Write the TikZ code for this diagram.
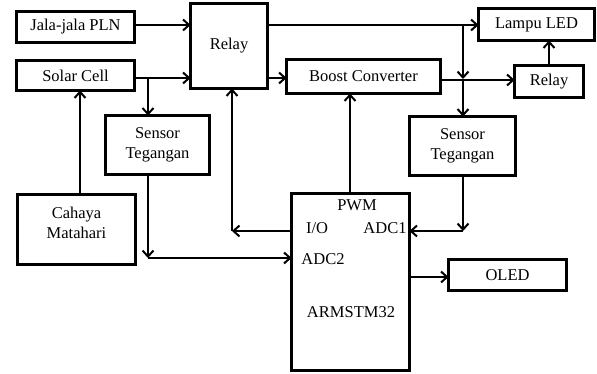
\documentclass[tikz,border=0pt]{standalone}
\usepackage{fontspec}
\setmainfont{Liberation Serif}
\usetikzlibrary{arrows.meta,calc}
\begin{document}
\begin{tikzpicture}[x=1pt,y=-1pt,
  box/.style={draw,line width=3pt,inner sep=0pt,outer sep=0pt,align=center,font=\fontsize{16.5}{20}\selectfont},
  lbl/.style={inner sep=0pt,font=\fontsize{16.5}{20}\selectfont},
  arr/.style={line width=2pt,-{Straight Barb[length=6pt,width=11pt,line width=2pt]}}]
\useasboundingbox (0,0) rectangle (597,374);
\node[box,minimum width=118pt,minimum height=31pt] (jala) at (75.5,27) {Jala-jala PLN};
\node[box,minimum width=118pt,minimum height=30pt] (solar) at (75.5,75.5) {Solar Cell};
\node[box,minimum width=77pt,minimum height=85pt] (relay) at (229,46) {Relay};
\node[box,minimum width=104pt,minimum height=59pt] (sensL) at (157.5,145) {Sensor\\Tegangan};
\node[box,minimum width=118pt,minimum height=70pt,text depth=14pt] (cahaya) at (76.5,229.5) {Cahaya\\Matahari};
\node[box,minimum width=154pt,minimum height=34pt] (boost) at (363.5,76.5) {Boost Converter};
\node[box,minimum width=116pt,minimum height=32pt] (lampu) at (536.5,24.5) {Lampu LED};
\node[box,minimum width=69pt,minimum height=32pt] (relay2) at (549,81.5) {Relay};
\node[box,minimum width=106pt,minimum height=59pt] (sensR) at (462.5,146) {Sensor\\Tegangan};
\node[box,minimum width=118pt,minimum height=177pt] (arm) at (350.5,282) {};
\node[box,minimum width=118pt,minimum height=31pt] (oled) at (507.5,275) {OLED};
\node[lbl] (pwm) at (357,205) {PWM};
\node[lbl] (io) at (317,228) {I/O};
\node[lbl] (adc1) at (385,228) {ADC1};
\node[lbl] (adc2) at (323,259) {ADC2};
\node[lbl] (armt) at (351,312) {ARMSTM32};
% coordinates
\coordinate (bsL) at (148,78);
\coordinate (cL) at (148,258);
\coordinate (cIO) at (232,231);
\coordinate (tR) at (463,25);
\coordinate (bR) at (463,80);
\coordinate (cR) at (463,231);
% connectors
\draw[arr] (jala.east |- 0,25) -- (relay.west |- 0,25);
\draw[arr] (solar.east |- bsL) -- (relay.west |- bsL);
\draw[arr] (bsL) -- (sensL.north -| bsL);
\draw[arr] (cahaya.north -| 80,0) -- (solar.south -| 80,0);
\draw[arr] (relay.east |- tR) -- (lampu.west |- tR);
\draw[arr] (tR) -- ($(bR)+(0,-1)$);
\draw[arr] (relay.east |- bsL) -- (boost.west |- bsL);
\draw[arr] (boost.east |- bR) -- (relay2.west |- bR);
\draw[arr] (bR) -- (sensR.north -| bR);
\draw[arr] (relay2.north) -- (lampu.south -| relay2.north);
\draw[arr] (sensL.south -| cL) -- (cL);
\draw[arr] (cL) -- (arm.west |- cL);
\draw[arr] (arm.west |- cIO) -- (cIO);
\draw[arr] (cIO) -- (relay.south -| cIO);
\draw[arr] (arm.north -| 350,0) -- (boost.south -| 350,0);
\draw[arr] (sensR.south -| cR) -- (cR);
\draw[arr] (cR) -- (arm.east |- cR);
\draw[arr] (arm.east |- 0,277) -- (oled.west |- 0,277);
\end{tikzpicture}
\end{document}
